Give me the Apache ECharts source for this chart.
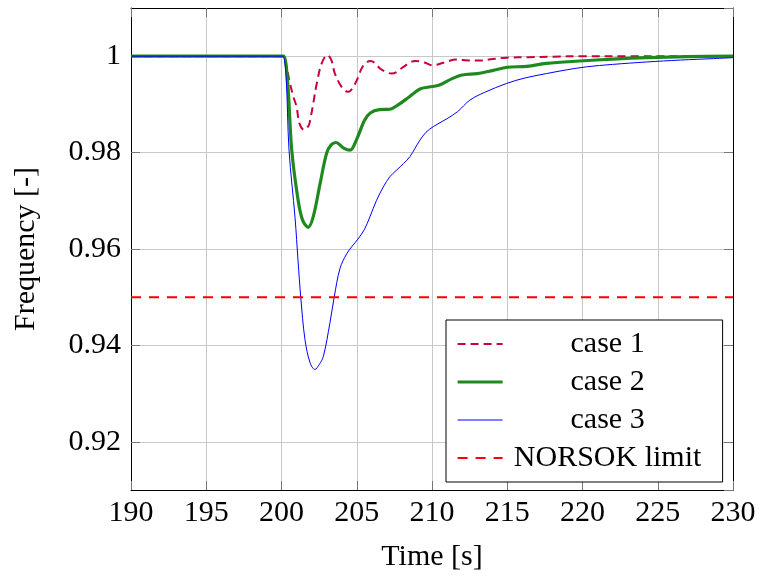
<!DOCTYPE html>
<html><head><meta charset="utf-8">
<script src="https://cdn.jsdelivr.net/npm/echarts@6/dist/echarts.min.js"></script>
<style>html,body{margin:0;padding:0;background:#fff}#c{width:763px;height:581px}</style>
</head><body><div id="c"></div>
<script>
const xTicks = [190,195,200,205,210,215,220,225,230];
const seriesNames = ['case 1','case 2','case 3','NORSOK limit'];

const t1 = [190,200,200.12,200.35,200.56,200.8,201.0,201.2,201.5,201.8,201.9,202.1,202.34,202.67,203.04,203.3,203.55,204.0,204.44,204.75,205.0,205.44,205.9,206.2,206.55,207.0,207.32,207.7,208.1,208.87,209.5,210.05,210.8,211.6,212.4,213.2,214.0,214.96,216.5,218,220,223,226,230];
const v1 = [1,1,1,0.9975,0.9944,0.9915,0.9895,0.9860,0.9847,0.9856,0.9867,0.9900,0.9943,0.9985,1.0002,0.9993,0.9964,0.9936,0.9926,0.9935,0.9950,0.9981,0.9990,0.9986,0.99745,0.99665,0.9964,0.9968,0.9978,0.9990,0.9987,0.9981,0.9987,0.9993,0.9991,0.9991,0.9994,0.9997,0.9998,0.9999,1.0,1.0,1.0,1.0];

const t2 = [190,200,200.15,200.4,200.68,201.1,201.4,201.78,202.11,202.56,203.0,203.3,203.62,204.1,204.55,205.0,205.5,205.9,206.5,207.2,207.8,208.5,209.2,209.8,210.5,211.3,212.0,213.0,214.0,215.0,216.3,217.6,219.8,222,224.3,227,230];
const v2 = [1,1,1,0.9950,0.9805,0.9702,0.9660,0.9645,0.9667,0.9735,0.9799,0.9816,0.9821,0.9810,0.9805,0.9828,0.9866,0.9882,0.9889,0.9890,0.9900,0.9916,0.9932,0.9936,0.9940,0.9953,0.9961,0.9964,0.9970,0.9977,0.9979,0.9985,0.9990,0.9994,0.9997,0.9999,1.0];

const t3 = [190,200,200.1,200.3,200.5,200.9,201.1,201.28,201.56,201.9,202.22,202.5,202.78,203.22,203.5,203.89,204.33,204.7,205.04,205.5,205.88,206.3,206.77,207.2,207.66,208.1,208.54,209.2,209.6,210.09,210.98,211.7,212.52,213.5,214.96,216.2,217.62,219,220.28,222,224.26,226.5,228.7,230];
const v3 = [1,1,1,0.9960,0.9805,0.9665,0.9575,0.9500,0.9412,0.9364,0.9350,0.9360,0.9377,0.9447,0.9500,0.9560,0.9590,0.9606,0.9619,0.9640,0.9667,0.9700,0.9729,0.9750,0.9764,0.9777,0.9792,0.9826,0.9842,0.9854,0.9870,0.9885,0.9909,0.9925,0.99435,0.9955,0.9964,0.9972,0.9978,0.9983,0.9988,0.9992,0.9995,0.9997];

const tLimit = [190,230];
const vLimit = [0.95,0.95];

const zip = (a,b)=>a.map((x,i)=>[x,b[i]]);
const FONT = 'Liberation Serif';
const FS = 30;
const styles = [
  {color:'#c8003c', width:2, type:[8,5]},
  {color:'#1e8a1e', width:3.2, type:'solid'},
  {color:'#0000ff', width:1, type:'solid'},
  {color:'#ff0000', width:2, type:[10,8]}
];

const chart = echarts.init(document.getElementById('c'), null, {renderer:'canvas'});
const axisLineStyle = {show:true, lineStyle:{color:'#000', width:1}};
const tickStyle = {show:true, inside:true, length:9, lineStyle:{color:'#777', width:1}};
chart.setOption({
  backgroundColor:'#fff',
  animation:false,
  grid:{left:131, right:30, top:8, bottom:91, containLabel:false},
  xAxis:[{
    type:'value', min:xTicks[0], max:xTicks[xTicks.length-1], interval:xTicks[1]-xTicks[0],
    position:'bottom',
    name:'Time [s]', nameLocation:'middle', nameGap:52,
    nameTextStyle:{fontFamily:FONT, fontSize:FS, color:'#000'},
    axisLine:axisLineStyle, axisTick:tickStyle,
    axisLabel:{fontFamily:FONT, fontSize:FS, color:'#000', margin:8},
    splitLine:{show:true, lineStyle:{color:'#c8c8c8', width:1}}
  },{
    type:'value', min:xTicks[0], max:xTicks[xTicks.length-1], interval:xTicks[1]-xTicks[0],
    position:'top', axisLine:axisLineStyle, axisTick:tickStyle,
    axisLabel:{show:false}, splitLine:{show:false}
  }],
  yAxis:[{
    type:'value', min:0.91, max:1.01, splitNumber:5,
    position:'left',
    name:'Frequency [-]', nameLocation:'middle', nameGap:90,
    nameTextStyle:{fontFamily:FONT, fontSize:FS, color:'#000'},
    axisLine:axisLineStyle, axisTick:tickStyle,
    axisLabel:{fontFamily:FONT, fontSize:FS, color:'#000', margin:10, showMinLabel:false, showMaxLabel:false,
      formatter:(v)=>String(+v.toFixed(2))},
    splitLine:{show:true, lineStyle:{color:'#c8c8c8', width:1}}
  },{
    type:'value', min:0.91, max:1.01, splitNumber:5,
    position:'right', axisLine:axisLineStyle, axisTick:tickStyle,
    axisLabel:{show:false}, splitLine:{show:false}
  }],
  legend:{
    orient:'vertical', left:446, top:320,
    padding:[9,15,9,10], itemGap:8, itemWidth:45, itemHeight:14,
    backgroundColor:'#fff', borderColor:'#000', borderWidth:1, borderRadius:0,
    data:seriesNames.map((n,i)=>({name:n, lineStyle:{width:styles[i].width, type:styles[i].type, color:styles[i].color}})),
    itemStyle:{color:'rgba(0,0,0,0)', borderWidth:0, opacity:0},
    formatter:(n)=>'{c|'+n+'}',
    textStyle:{fontFamily:FONT, fontSize:FS, color:'#000',
      rich:{c:{fontFamily:FONT, fontSize:FS, color:'#000', width:200, align:'center', lineHeight:29}}}
  },
  series:[
    {name:seriesNames[0], type:'line', data:zip(t1,v1), smooth:0.35, symbol:'none',
      lineStyle:styles[0], itemStyle:{color:styles[0].color}},
    {name:seriesNames[1], type:'line', data:zip(t2,v2), smooth:0.35, symbol:'none',
      lineStyle:styles[1], itemStyle:{color:styles[1].color}},
    {name:seriesNames[2], type:'line', data:zip(t3,v3), smooth:0.35, symbol:'none',
      lineStyle:styles[2], itemStyle:{color:styles[2].color}},
    {name:seriesNames[3], type:'line', data:zip(tLimit,vLimit), symbol:'none',
      lineStyle:styles[3], itemStyle:{color:styles[3].color}}
  ]
});
</script></body></html>
